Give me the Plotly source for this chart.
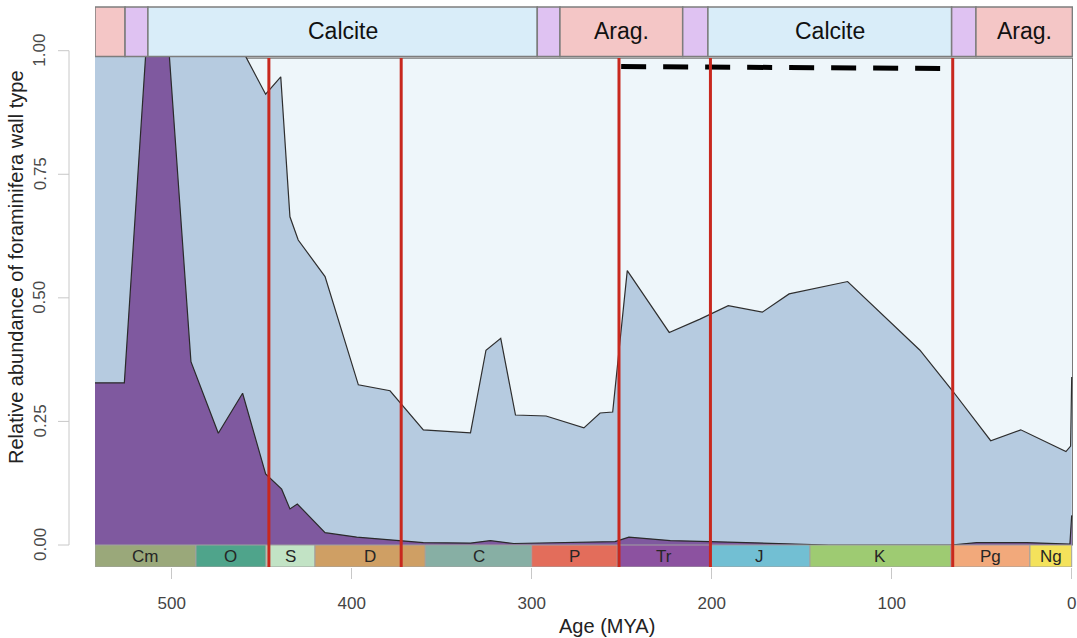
import plotly.graph_objects as go

# ---------------- data ----------------
# cumulative upper boundary of the purple (bottom) layer
purple_age = [542.6, 526.3, 514.3, 501.5, 489.3, 474.1, 460.6, 447.8, 438.9, 434.3,
              430.2, 414.8, 397.2, 378.7, 360.2, 334.0, 323.0, 310.0, 253.7, 246.0,
              223.0, 201.0, 154.7, 135.0, 67.0, 52.8, 25.0, 1.0, 0.0]
purple_top = [0.328, 0.328, 1.0, 1.0, 0.371, 0.226, 0.307, 0.144, 0.113, 0.073,
              0.083, 0.025, 0.016, 0.010, 0.005, 0.004, 0.009, 0.003, 0.007, 0.016,
              0.009, 0.007, 0.003, 0.0, 0.0, 0.005, 0.005, 0.002, 0.06]

# cumulative upper boundary of the blue (middle) layer
blue_age = [542.6, 460.6, 447.8, 439.4, 434.3, 429.7, 414.8, 396.3, 378.7, 360.2,
            334.0, 325.4, 317.2, 309.0, 292.0, 271.0, 262.0, 255.0, 246.9, 223.6,
            206.5, 190.8, 171.9, 157.0, 124.5, 84.3, 65.8, 45.0, 28.3, 3.2, 0.6, 0.0]
blue_top = [1.0, 1.0, 0.912, 0.947, 0.664, 0.617, 0.543, 0.324, 0.312, 0.233,
            0.227, 0.394, 0.418, 0.263, 0.261, 0.237, 0.267, 0.269, 0.555, 0.430,
            0.457, 0.484, 0.471, 0.508, 0.533, 0.394, 0.310, 0.211, 0.233, 0.189, 0.200, 0.34]

# top (light) layer extent
light_age = [542.6, -0.5]
light_top = 0.985

# mineralogy band (top)
sea_edges = [542.6, 525.9, 513.2, 296.9, 284.3, 216.1, 202.1, 66.7, 53.2, -0.4]
sea_kind = ["A", "M", "C", "M", "A", "M", "C", "M", "A"]
sea_label = ["", "", "Calcite", "", "Arag.", "", "Calcite", "", "Arag."]

# geological periods (bottom band)
period_names = ["Cm", "O", "S", "D", "C", "P", "Tr", "J", "K", "Pg", "Ng"]
period_edges = [542.6, 486.5, 447.6, 420.4, 359.1, 300.0, 252.4, 201.0, 145.4, 67.2, 23.2, 0.0]
period_colors = ["#9aa87a", "#4fa48b", "#c2e3c5", "#cf9f64", "#87afa4", "#e36d5b",
                 "#8c52a0", "#72bfd3", "#9ecb72", "#f2a97b", "#f4e25b"]

# extinction lines (red)
extinction_ages = [446.0, 372.5, 251.5, 200.7, 66.1]

# dashed line
dash_age = [250.3, 71.7]
dash_val = [0.968, 0.964]

x_ticks = [500, 400, 300, 200, 100, 0]
y_ticks = [0.0, 0.25, 0.5, 0.75, 1.0]
y_tick_text = ["0.00", "0.25", "0.50", "0.75", "1.00"]

X_RANGE = [542.6, -0.72]
Y_RANGE = [-0.0445, 1.0904]
BAND_BOTTOM, BAND_TOP = 0.988, 1.0884

FONT = "Liberation Sans, Arial, Helvetica, sans-serif"
sea_colors = {"A": "#f4c6c6", "M": "#dfc2f2", "C": "#d9edf9"}

fig = go.Figure()

# light layer
fig.add_trace(go.Scatter(
    x=[light_age[0], light_age[1], light_age[1], light_age[0], light_age[0]],
    y=[0, 0, light_top, light_top, 0],
    fill="toself", fillcolor="#eef6fa", mode="lines",
    line=dict(color="#7a7a7a", width=1.2), hoverinfo="skip", showlegend=False))

# blue layer
fig.add_trace(go.Scatter(
    x=blue_age, y=blue_top, fill="tozeroy", fillcolor="#b6cbe0", mode="lines",
    line=dict(color="#2e2e2e", width=1.2), showlegend=False))

# purple layer
fig.add_trace(go.Scatter(
    x=purple_age, y=purple_top, fill="tozeroy", fillcolor="#7f599f", mode="lines",
    line=dict(color="#2a2a2a", width=1.2), showlegend=False))

shapes = []
annotations = []

# top mineralogy band
for i, kind in enumerate(sea_kind):
    x0, x1 = sea_edges[i], sea_edges[i + 1]
    shapes.append(dict(type="rect", xref="x", yref="y", x0=x0, x1=x1,
                       y0=BAND_BOTTOM, y1=BAND_TOP, fillcolor=sea_colors[kind],
                       line=dict(color="#7d7d7d", width=1.5), layer="above"))
    if sea_label[i]:
        annotations.append(dict(x=(x0 + x1) / 2, y=(545 - 31.5) / 494.3,
                                xref="x", yref="y", text=sea_label[i], showarrow=False,
                                xanchor="center", yanchor="middle",
                                font=dict(family=FONT, size=23, color="#111111")))

# bottom period band
for i, name in enumerate(period_names):
    x0, x1 = period_edges[i], period_edges[i + 1]
    shapes.append(dict(type="rect", xref="x", yref="y", x0=x0, x1=x1,
                       y0=Y_RANGE[0], y1=0, fillcolor=period_colors[i],
                       line=dict(color="#a0a0a0", width=1), layer="above"))
    annotations.append(dict(x=(x0 + x1) / 2, y=Y_RANGE[0] / 2, xref="x", yref="y",
                            text=name, showarrow=False, xanchor="center", yanchor="middle",
                            font=dict(family=FONT, size=17, color="#262626")))

# red extinction lines
for a in extinction_ages:
    shapes.append(dict(type="line", xref="x", yref="y", x0=a, x1=a,
                       y0=Y_RANGE[0], y1=light_top,
                       line=dict(color="#c8281e", width=3), layer="above"))

# manual y axis (R style, offset) -- screen px -> paper
def px_to_paper_x(px):
    return (px - 95) / 978.0

ax_x = px_to_paper_x(69)
tick_x0 = px_to_paper_x(58)
lab_x = px_to_paper_x(40)
title_x = px_to_paper_x(16)
shapes.append(dict(type="line", xref="paper", yref="y", x0=ax_x, x1=ax_x,
                   y0=y_ticks[0], y1=y_ticks[-1], line=dict(color="#c8c8c8", width=1)))
for v, t in zip(y_ticks, y_tick_text):
    shapes.append(dict(type="line", xref="paper", yref="y", x0=tick_x0, x1=ax_x,
                       y0=v, y1=v, line=dict(color="#c8c8c8", width=1)))
    annotations.append(dict(x=lab_x, y=v, xref="paper", yref="y", text=t,
                            textangle=-90, showarrow=False,
                            xanchor="center", yanchor="middle",
                            font=dict(family=FONT, size=17, color="#4a4a4a")))

annotations.append(dict(x=title_x, y=(545 - 267) / 494.3, xref="paper", yref="y",
                        text="Relative abundance of foraminifera wall type",
                        textangle=-90, showarrow=False,
                        xanchor="center", yanchor="middle",
                        font=dict(family=FONT, size=20, color="#222222")))
annotations.append(dict(x=px_to_paper_x(607), y=0, xref="paper",
                        yref="paper", yshift=-(626 - 567), text="Age (MYA)",
                        showarrow=False, xanchor="center", yanchor="middle",
                        font=dict(family=FONT, size=20, color="#222222")))

# dashed line
fig.add_trace(go.Scatter(x=dash_age, y=dash_val, mode="lines",
                         line=dict(color="black", width=5, dash="25px,17px"),
                         showlegend=False))

fig.update_layout(
    width=1077, height=638,
    margin=dict(l=95, r=4, t=6, b=71, autoexpand=False),
    paper_bgcolor="white", plot_bgcolor="white",
    shapes=shapes, annotations=annotations,
    xaxis=dict(range=X_RANGE, tickvals=x_ticks, ticktext=[str(v) for v in x_ticks],
               showgrid=False, zeroline=False, showline=False, automargin=False,
               ticks="outside", ticklen=11, tickcolor="#c8c8c8", tickwidth=1,
               ticklabelstandoff=10,
               tickfont=dict(family=FONT, size=17, color="#444444")),
    yaxis=dict(range=Y_RANGE, showgrid=False, zeroline=False, showline=False,
               showticklabels=False, ticks="", automargin=False),
    font=dict(family=FONT),
)

fig.write_html(
    "out.html",
    config={"displayModeBar": False},
    post_script="document.body.style.margin='0';"
                "document.documentElement.style.overflow='hidden';"
                "document.body.style.overflow='hidden';",
)
